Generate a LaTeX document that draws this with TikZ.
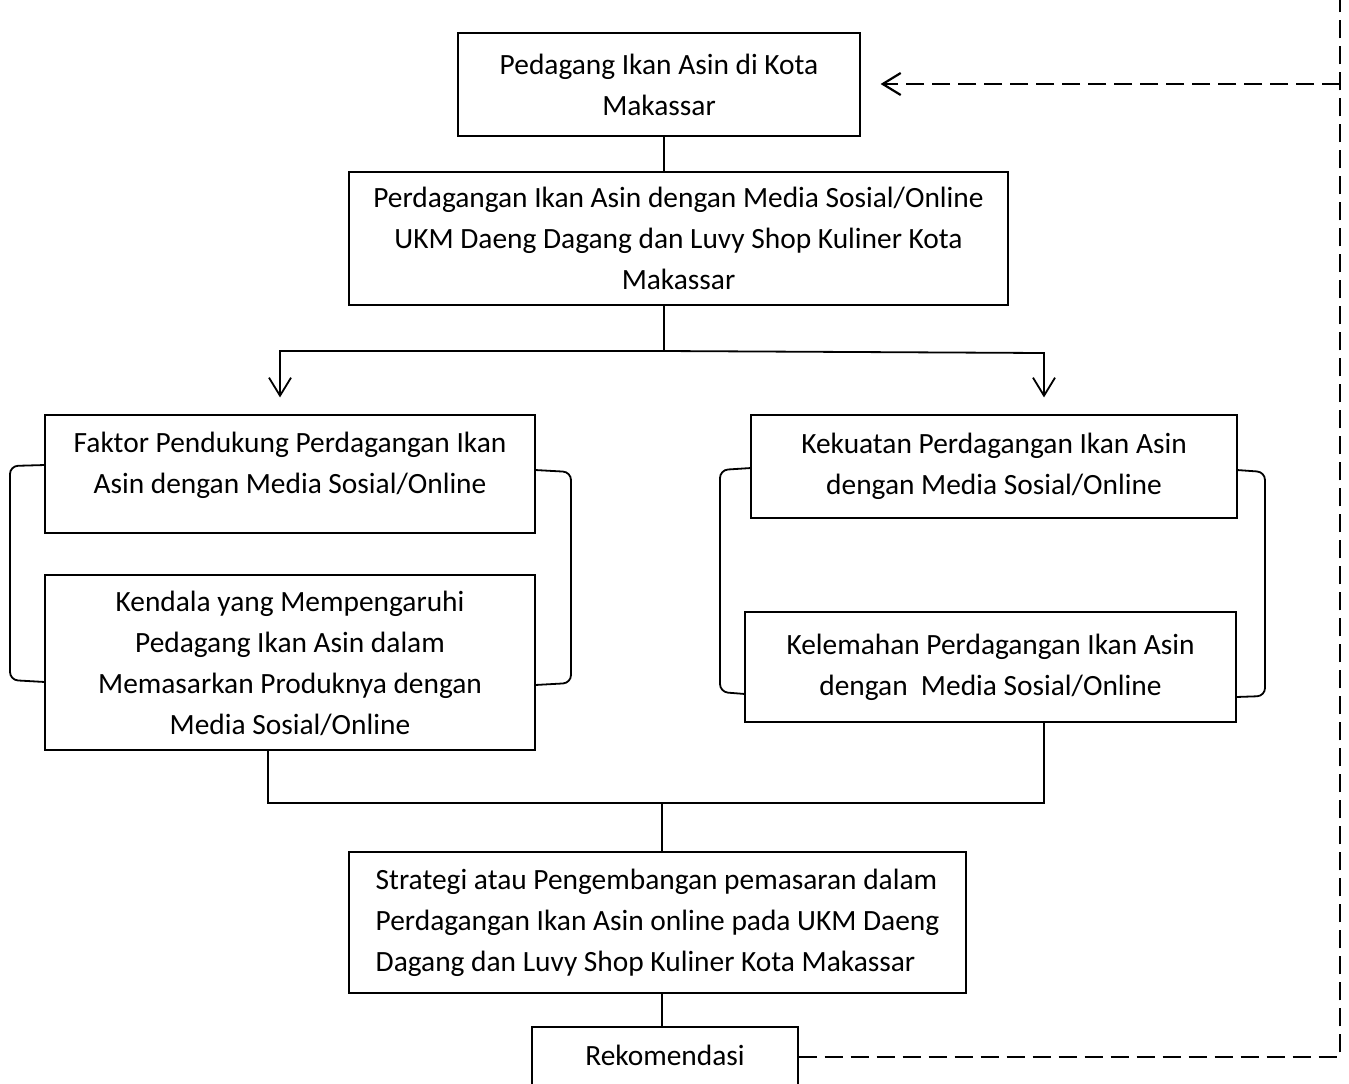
\documentclass[tikz,border=0pt]{standalone}
\usepackage{fontspec}
\setmainfont{Carlito}
\usetikzlibrary{arrows.meta,positioning,calc}
\tikzset{every picture/.style={line width=0.9pt}}

\begin{document}
\begin{tikzpicture}[x=0.5pt,y=-0.5pt,
    kotak/.style={draw, line width=0.6pt, align=center, inner sep=0pt,
      font=\fontsize{14.7}{20.5}\selectfont},
    panah/.style={-{Straight Barb[length=9pt,width=11pt]}},
    putus/.style={line width=1.1pt, dash pattern=on 9pt off 4pt}]
    \useasboundingbox (0,0) rectangle (1349,1083);
    \clip (0,0) rectangle (1349,1083);
    % kotak atas
    \node[kotak, minimum width=201pt, minimum height=51.5pt] (pedagang) at (659,84.5)
        {Pedagang Ikan Asin di Kota\\Makassar};
    \node[kotak, minimum width=329.5pt, minimum height=66.5pt, text depth=0pt] (dagang) at (678.5,238.5)
        {Perdagangan Ikan Asin dengan Media Sosial/Online\\UKM Daeng Dagang dan Luvy Shop Kuliner Kota\\Makassar};
    % kiri
    \node[kotak, minimum width=245pt, minimum height=59pt, text depth=11.5pt] (faktor) at (290,474)
        {Faktor Pendukung Perdagangan Ikan\\Asin dengan Media Sosial/Online};
    \node[kotak, minimum width=245pt, minimum height=87.5pt, text depth=0pt] (kendala) at (290,662.5)
        {Kendala yang Mempengaruhi\\Pedagang Ikan Asin dalam\\Memasarkan Produknya dengan\\Media Sosial/Online};
    % kanan
    \node[kotak, minimum width=243pt, minimum height=51.5pt] (kekuatan) at (994,466.5)
        {Kekuatan Perdagangan Ikan Asin\\dengan Media Sosial/Online};
    \node[kotak, minimum width=245.5pt, minimum height=55pt] (kelemahan) at (990.5,667)
        {Kelemahan Perdagangan Ikan Asin\\dengan\ \ Media Sosial/Online};
    % bawah
    \node[kotak, align=left, minimum width=308.5pt, minimum height=70.5pt] (strategi) at (657.5,922.5)
        {Strategi atau Pengembangan pemasaran dalam\\Perdagangan Ikan Asin online pada UKM Daeng\\Dagang dan Luvy Shop Kuliner Kota Makassar};
    \node[kotak, minimum width=133pt, minimum height=41.5pt, text depth=13.5pt] (rekom) at (665,1068.5)
        {Rekomendasi};
    % titik cabang
    \coordinate (cabang) at (664,351);
    \coordinate (kiri) at (280,351);
    \coordinate (kanan) at (1044,353);
    \coordinate (gabung) at (662,803);
    \coordinate (gkiri) at (268,803);
    \coordinate (gkanan) at (1044,803);
    % garis
    \draw (pedagang.south -| cabang) -- (dagang.north -| cabang);
    \draw (dagang.south -| cabang) -- (cabang);
    \draw[panah, shorten >=8.5pt] (cabang) -- (kiri) -- (kiri |- faktor.north);
    \draw[panah, shorten >=8.5pt] (cabang) -- (kanan) -- (kanan |- kekuatan.north);
    \draw (kendala.south -| gkiri) -- (gkiri) -- (gkanan) -- (kelemahan.south -| gkanan);
    \draw (gabung) -- (strategi.north -| gabung);
    \draw (strategi.south -| gabung) -- (rekom.north -| gabung);
    % kurung
    \begin{scope}[rounded corners=4pt]
        \draw (45,465) -- (10,466) -- (10,680) -- (45,682);
        \draw (535,470) -- (571,472) -- (571,683) -- (535,685);
        \draw (751,468) -- (720,470) -- (720,692) -- (745,694);
        \draw (1237,470) -- (1265,472) -- (1265,696) -- (1236,697);
    \end{scope}
    % umpan balik
    \coordinate (pojok) at (1340,1057);
    \coordinate (puncak) at (1340,0);
    \coordinate (balik) at (1340,84);
    \draw[putus] (rekom.east |- pojok) -- (pojok) -- (puncak);
    \draw[putus, panah, shorten >=10pt] (balik) -- (pedagang.east |- balik);
\end{tikzpicture}
\end{document}
